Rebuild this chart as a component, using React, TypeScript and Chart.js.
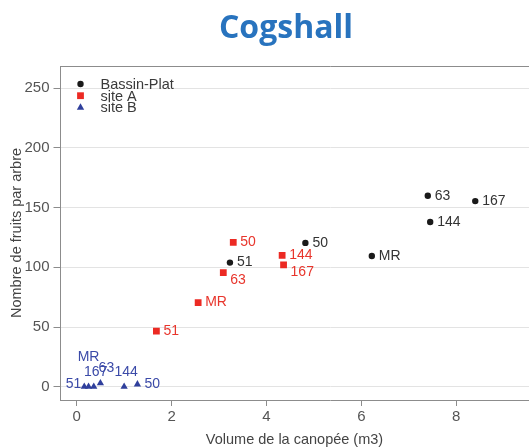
import React, { useEffect, useRef } from "react";
import { Chart, registerables } from "chart.js";

Chart.register(...registerables);

const titleText = "Cogshall";
const xTitle = "Volume de la canopée (m3)";
const yTitle = "Nombre de fruits par arbre";

const seriesNames = ["Bassin-Plat", "site A", "site B"];

const bassinLabels = ["51", "50", "MR", "63", "144", "167"];
const bassinX = [3.23, 4.82, 6.22, 7.4, 7.45, 8.4];
const bassinY = [104, 120.5, 109.5, 160, 138, 155.5];
const bassinPlace = ["right", "right", "right", "right", "right", "right"];

const siteALabels = ["50", "63", "MR", "51", "144", "167"];
const siteAX = [3.3, 3.09, 2.56, 1.68, 4.33, 4.36];
const siteAY = [121, 95.5, 70.5, 46.5, 110, 102];
const siteAPlace = ["right", "belowRight", "right", "right", "right", "belowRight"];

const siteBLabels = ["51", "MR", "167", "63", "144", "50"];
const siteBX = [0.16, 0.25, 0.36, 0.5, 1.0, 1.28];
const siteBY = [0, 0, 0, 3, 0, 2];
const siteBPlace = ["left", "above2", "above", "aboveRight", "above", "right"];

const xTicks = [0, 2, 4, 6, 8];
const yTicks = [0, 50, 100, 150, 200, 250];

const FONT = "'Liberation Sans', Arial, Helvetica, sans-serif";

const labelPlugin = {
  id: "pointLabels",
  afterDatasetsDraw(chart: any) {
    const ctx = chart.ctx;
    const ca = chart.chartArea;
    ctx.save();
    // top border of the box
    ctx.strokeStyle = "#8c8c8c";
    ctx.lineWidth = 1;
    ctx.beginPath();
    ctx.moveTo(ca.left, Math.round(ca.top) + 0.5);
    ctx.lineTo(ca.right + 10, Math.round(ca.top) + 0.5);
    ctx.stroke();

    ctx.font = `14px ${FONT}`;
    chart.data.datasets.forEach((ds: any, di: number) => {
      const meta = chart.getDatasetMeta(di);
      meta.data.forEach((pt: any, i: number) => {
        const place = ds.place[i];
        const text = ds.pointNames[i];
        let x = pt.x;
        let y = pt.y;
        ctx.fillStyle = ds.labelColor;
        ctx.textBaseline = "middle";
        if (place === "right") {
          ctx.textAlign = "left";
          x += 7;
        } else if (place === "belowRight") {
          ctx.textAlign = "left";
          x += 7;
          y += 7;
        } else if (place === "left") {
          ctx.textAlign = "right";
          x -= 3;
          y -= 3;
        } else if (place === "above") {
          ctx.textAlign = "center";
          x += 2;
          y -= 15;
        } else if (place === "above2") {
          ctx.textAlign = "center";
          y -= 30;
        } else if (place === "aboveRight") {
          ctx.textAlign = "center";
          x += 6;
          y -= 15;
        }
        ctx.fillText(text, x, y);
      });
    });

    // legend
    const lx = ca.left + 20;
    const ly = ca.top + 18;
    const step = 11.7;
    ctx.font = `14.5px ${FONT}`;
    ctx.textAlign = "left";
    ctx.textBaseline = "middle";
    chart.data.datasets.forEach((ds: any, di: number) => {
      const y = ly + di * step;
      ctx.fillStyle = ds.backgroundColor;
      ctx.beginPath();
      if (ds.pointStyle === "circle") {
        ctx.arc(lx, y, 3.2, 0, Math.PI * 2);
      } else if (ds.pointStyle === "rect") {
        ctx.rect(lx - 3.4, y - 3.4, 6.8, 6.8);
      } else {
        ctx.moveTo(lx, y - 4.2);
        ctx.lineTo(lx + 3.7, y + 2.3);
        ctx.lineTo(lx - 3.7, y + 2.3);
        ctx.closePath();
      }
      ctx.fill();
      ctx.fillStyle = "#3a3a3a";
      ctx.fillText(ds.label, lx + 20, y + 1);
    });
    ctx.restore();
  },
};

function toPoints(xs: number[], ys: number[]) {
  return xs.map((x, i) => ({ x, y: ys[i] }));
}

export default function App() {
  const ref = useRef<HTMLCanvasElement | null>(null);

  useEffect(() => {
    if (!ref.current) return;
    const chart = new Chart(ref.current, {
      type: "scatter",
      data: {
        datasets: [
          {
            label: seriesNames[0],
            data: toPoints(bassinX, bassinY),
            pointStyle: "circle",
            pointRadius: 3.2,
            backgroundColor: "#1a1a1a",
            borderColor: "#1a1a1a",
            borderWidth: 0,
            pointNames: bassinLabels,
            place: bassinPlace,
            labelColor: "#333333",
          } as any,
          {
            label: seriesNames[1],
            data: toPoints(siteAX, siteAY),
            pointStyle: "rect",
            pointRadius: 4.8,
            backgroundColor: "#ec2a23",
            borderColor: "#ec2a23",
            borderWidth: 0,
            pointNames: siteALabels,
            place: siteAPlace,
            labelColor: "#e8352c",
          } as any,
          {
            label: seriesNames[2],
            data: toPoints(siteBX, siteBY),
            pointStyle: "triangle",
            pointRadius: 4.2,
            backgroundColor: "#2f3f9c",
            borderColor: "#2f3f9c",
            borderWidth: 0,
            pointNames: siteBLabels,
            place: siteBPlace,
            labelColor: "#3b4aa8",
          } as any,
        ],
      },
      options: {
        animation: false,
        responsive: false,
        maintainAspectRatio: false,
        layout: { autoPadding: false, padding: { top: 66, left: 0, right: 0, bottom: 0 } },
        plugins: {
          legend: { display: false },
          tooltip: { enabled: false },
          title: { display: false },
        },
        scales: {
          x: {
            type: "linear",
            min: -0.341,
            max: 11.029,
            afterFit: (s: any) => {
              s.height = 48;
              s.paddingLeft = 0;
              s.paddingRight = 0;
            },
            afterBuildTicks: (s: any) => {
              s.ticks = xTicks.map((v) => ({ value: v }));
            },
            grid: {
              drawOnChartArea: false,
              drawTicks: true,
              tickLength: 6,
              tickColor: "#8c8c8c",
            },
            border: { display: true, color: "#8c8c8c", width: 1 },
            ticks: {
              color: "#555555",
              padding: 2,
              font: { family: FONT, size: 15 },
            },
            title: {
              display: false,
            },
          },
          y: {
            type: "linear",
            min: -11.14,
            max: 268.7,
            afterFit: (s: any) => {
              s.width = 60.5;
              s.paddingTop = 0;
              s.paddingBottom = 0;
            },
            afterBuildTicks: (s: any) => {
              s.ticks = yTicks.map((v) => ({ value: v }));
            },
            grid: {
              drawOnChartArea: true,
              drawTicks: true,
              tickLength: 7,
              color: "#e3e3e3",
              tickColor: "#8c8c8c",
            },
            border: { display: true, color: "#8c8c8c", width: 1 },
            ticks: {
              color: "#555555",
              padding: 4,
              font: { family: FONT, size: 15 },
            },
            title: {
              display: true,
              text: yTitle,
              color: "#444444",
              font: { family: FONT, size: 14.5, lineHeight: 1 },
              padding: { top: 10, bottom: 0 },
            },
          },
        },
      },
      plugins: [labelPlugin],
    });
    return () => chart.destroy();
  }, []);

  return (
    <div style={{ position: "fixed", left: 0, top: 0, width: 529, height: 448, background: "#fff", overflow: "hidden" }}>
      <canvas ref={ref} width={600} height={448} style={{ position: "absolute", left: 0, top: 0 }} />
      <div
        style={{
          position: "absolute",
          left: 43,
          top: 10,
          width: 486,
          textAlign: "center",
          fontFamily: "'Open Sans', sans-serif",
          fontWeight: 700,
          fontSize: 32,
          lineHeight: "32px",
          color: "#2873be",
        }}
      >
        {titleText}
      </div>
      <div
        style={{
          position: "absolute",
          left: 60,
          top: 431,
          width: 469,
          textAlign: "center",
          fontFamily: FONT,
          fontSize: 14.5,
          lineHeight: "17px",
          color: "#444444",
        }}
      >
        {xTitle}
      </div>
    </div>
  );
}
